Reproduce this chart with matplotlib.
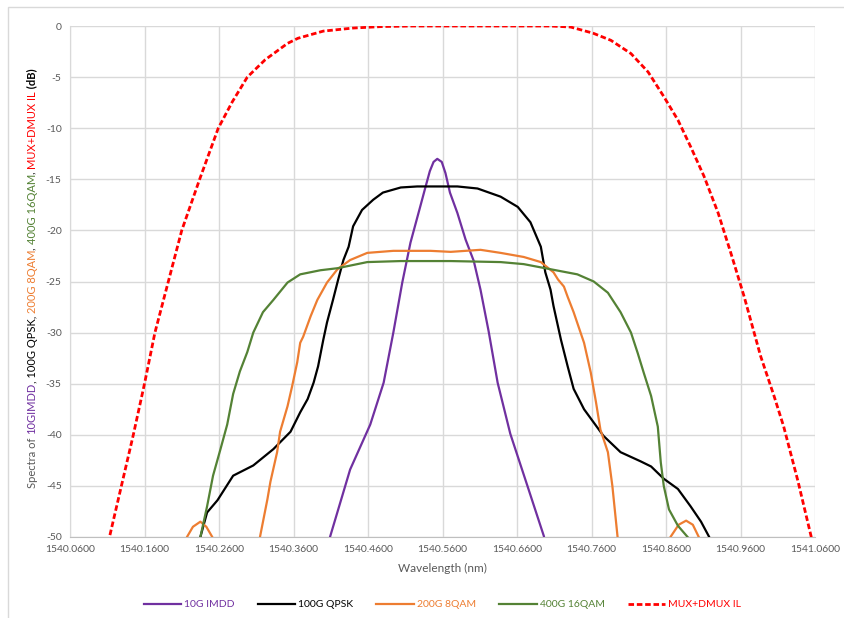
import matplotlib
matplotlib.use("Agg")
import matplotlib.pyplot as plt
from matplotlib.patches import Rectangle

plt.rcParams["font.family"] = ["Lato", "DejaVu Sans"]
plt.rcParams["axes.unicode_minus"] = False

# --- data (wavelength in nm, level in dB) ---
imdd_x = [1540.400, 1540.409, 1540.436, 1540.463, 1540.481, 1540.494, 1540.506, 1540.517,
          1540.530, 1540.537, 1540.543, 1540.548, 1540.553, 1540.559, 1540.564, 1540.570,
          1540.580, 1540.591, 1540.602, 1540.611, 1540.622, 1540.634, 1540.651, 1540.674,
          1540.696, 1540.702]
imdd_y = [-53.0, -50.0, -43.4, -39.0, -34.9, -30.0, -25.1, -21.2,
          -17.7, -15.8, -14.2, -13.3, -13.0, -13.3, -14.4, -16.3,
          -18.3, -20.9, -23.0, -25.8, -29.9, -34.9, -39.9, -45.0,
          -49.9, -52.0]

qpsk_x = [1540.228, 1540.235, 1540.244, 1540.258, 1540.279, 1540.306, 1540.333, 1540.356,
          1540.369, 1540.379, 1540.387, 1540.393, 1540.400, 1540.405, 1540.413, 1540.420,
          1540.427, 1540.434, 1540.440, 1540.452, 1540.467, 1540.480, 1540.504, 1540.526,
          1540.580, 1540.607, 1540.638, 1540.661, 1540.678, 1540.692, 1540.698, 1540.705,
          1540.709, 1540.719, 1540.728, 1540.736, 1540.750, 1540.763, 1540.776, 1540.799,
          1540.826, 1540.840, 1540.857, 1540.876, 1540.893, 1540.907, 1540.918, 1540.925]
qpsk_y = [-52.5, -50.0, -47.6, -46.4, -44.0, -43.0, -41.4, -39.7,
          -37.8, -36.5, -34.9, -33.3, -30.7, -29.0, -26.8, -24.8,
          -22.9, -21.6, -19.6, -18.0, -17.0, -16.3, -15.8, -15.7,
          -15.7, -15.9, -16.7, -17.7, -19.2, -21.6, -24.1, -25.8,
          -27.4, -30.7, -33.3, -35.5, -37.5, -38.8, -40.1, -41.7,
          -42.6, -43.1, -44.3, -45.3, -47.0, -48.5, -50.0, -51.5]

qam8_x = [1540.205, 1540.217, 1540.225, 1540.235, 1540.243, 1540.251, 1540.262, 1540.285,
          1540.305, 1540.315, 1540.325, 1540.329, 1540.338, 1540.342, 1540.352, 1540.358,
          1540.365, 1540.369, 1540.373, 1540.383, 1540.392, 1540.405, 1540.419, 1540.436,
          1540.459, 1540.494, 1540.544, 1540.571, 1540.611, 1540.638, 1540.669, 1540.692,
          1540.709, 1540.715, 1540.723, 1540.728, 1540.736, 1540.750, 1540.759, 1540.766,
          1540.772, 1540.782, 1540.788, 1540.795, 1540.805, 1540.835, 1540.858, 1540.866,
          1540.877, 1540.887, 1540.896, 1540.904, 1540.915]
qam8_y = [-53.0, -50.0, -49.0, -48.5, -49.0, -50.0, -53.0, -60.0,
          -54.0, -50.0, -46.3, -44.6, -41.7, -39.7, -37.2, -35.3,
          -32.9, -31.0, -30.4, -28.4, -26.8, -25.1, -23.8, -22.9,
          -22.2, -22.0, -22.0, -22.1, -21.9, -22.2, -22.6, -23.1,
          -24.1, -24.8, -25.5, -26.5, -28.0, -31.0, -33.9, -36.8,
          -39.5, -41.7, -45.0, -50.0, -55.0, -60.0, -53.0, -50.0,
          -48.8, -48.4, -48.8, -50.0, -53.0]

qam16_x = [1540.228, 1540.235, 1540.244, 1540.252, 1540.262, 1540.271, 1540.275, 1540.279,
           1540.288, 1540.298, 1540.306, 1540.319, 1540.333, 1540.352, 1540.369, 1540.396,
           1540.419, 1540.459, 1540.504, 1540.571, 1540.638, 1540.669, 1540.705, 1540.741,
           1540.763, 1540.782, 1540.799, 1540.813, 1540.822, 1540.830, 1540.840, 1540.849,
           1540.853, 1540.857, 1540.864, 1540.876, 1540.889, 1540.900]
qam16_y = [-54.0, -50.0, -47.0, -44.0, -41.4, -39.0, -37.5, -36.0,
           -33.8, -31.9, -30.0, -28.0, -26.8, -25.1, -24.3, -23.9,
           -23.7, -23.1, -23.0, -23.0, -23.1, -23.3, -23.8, -24.3,
           -25.0, -26.1, -28.0, -30.0, -32.0, -33.9, -36.2, -39.2,
           -42.7, -45.0, -47.3, -48.9, -50.0, -51.0]

il_x = [1540.104, 1540.113, 1540.129, 1540.145, 1540.160, 1540.174, 1540.192, 1540.210,
        1540.234, 1540.259, 1540.278, 1540.298, 1540.322, 1540.352, 1540.366, 1540.400,
        1540.440, 1540.480, 1540.520, 1540.600, 1540.680, 1540.705, 1540.732, 1540.762,
        1540.786, 1540.813, 1540.836, 1540.857, 1540.876, 1540.893, 1540.911, 1540.930,
        1540.947, 1540.965, 1540.987, 1541.005, 1541.018, 1541.037, 1541.055, 1541.062]
il_y = [-53.0, -50.0, -45.0, -40.0, -35.0, -30.0, -25.0, -20.0,
        -15.0, -10.0, -7.4, -5.0, -3.3, -1.7, -1.2, -0.5,
        -0.2, -0.05, 0.0, 0.0, 0.0, 0.0, -0.1, -0.7,
        -1.4, -2.7, -4.5, -6.9, -9.2, -11.8, -14.7, -18.3,
        -22.2, -26.5, -32.3, -36.2, -39.2, -44.5, -50.0, -52.0]

x_ticks = [1540.06 + 0.1 * i for i in range(11)]
y_ticks = [0, -5, -10, -15, -20, -25, -30, -35, -40, -45, -50]

series_names = ["10G IMDD", "100G QPSK", "200G 8QAM", "400G 16QAM", "MUX+DMUX IL"]
series_colors = ["#7030A0", "#000000", "#ED7D31", "#548235", "#FF0000"]
label_colors = ["#7030A0", "#000000", "#ED7D31", "#548235", "#FF0000"]

GREY = "#595959"
GRID = "#D9D9D9"

fig = plt.figure(figsize=(8.44, 6.18), dpi=100)
fig.patches.append(Rectangle((8 / 844, -0.01), 1.0, 1 - 7 / 618 + 0.01, transform=fig.transFigure,
                             fill=False, edgecolor=GRID, linewidth=1.0))
ax = fig.add_axes([70 / 844, 1 - 537 / 618, (815 - 70) / 844, (537 - 26) / 618])

xs = [imdd_x, qpsk_x, qam8_x, qam16_x, il_x]
ys = [imdd_y, qpsk_y, qam8_y, qam16_y, il_y]
handles = []
for x, y, name, c in zip(xs, ys, series_names, series_colors):
    if name == "MUX+DMUX IL":
        h, = ax.plot(x, y, color=c, lw=2.0, dashes=(2.0, 1.0), label=name, zorder=3)
    else:
        h, = ax.plot(x, y, color=c, lw=1.6, label=name, zorder=3)
    handles.append(h)

ax.set_xlim(1540.06, 1541.06)
ax.set_ylim(-50, 0)
ax.set_xticks(x_ticks)
ax.set_xticklabels([f"{v:.4f}" for v in x_ticks])
ax.set_yticks(y_ticks)
ax.set_yticklabels([str(v) for v in y_ticks])
ax.tick_params(length=0, labelsize=7.5, labelcolor=GREY, pad=6)
ax.grid(True, color=GRID, lw=1.0)
ax.set_axisbelow(True)
for side in ["top", "right"]:
    ax.spines[side].set_visible(False)
ax.spines["left"].set_color(GRID)
ax.spines["bottom"].set_color("#BFBFBF")

ax.set_xlabel("Wavelength (nm)", fontsize=8.5, color=GREY, labelpad=6)

leg = ax.legend(handles=handles, loc="upper center", bbox_to_anchor=(0.5, -0.105), ncol=5,
                frameon=False, fontsize=7.5, handlelength=3.6, columnspacing=2.2,
                handletextpad=0.3)
for t, c in zip(leg.get_texts(), label_colors):
    t.set_color(c)

# multi-coloured y label, stacked bottom to top
ylabel_parts = [("Spectra of ", GREY, "normal"), ("10GIMDD", "#7030A0", "normal"),
                (", 100G QPSK, ", "#000000", "normal"), ("200G 8QAM", "#ED7D31", "normal"),
                (", ", "#000000", "normal"), ("400G 16QAM", "#548235", "normal"),
                (", ", "#000000", "normal"), ("MUX+DMUX IL", "#FF0000", "normal"),
                (" (dB)", "#000000", "bold")]
renderer = fig.canvas.get_renderer()
pieces = []
for txt, col, wt in ylabel_parts:
    t = fig.text(32 / 844, 0, txt, rotation=90, color=col, fontsize=8, fontweight=wt,
                 ha="center", va="center")
    pieces.append(t)
heights = [p.get_window_extent(renderer).height for p in pieces]
total = sum(heights)
y0 = (618 - 278) - total / 2
for p, h in zip(pieces, heights):
    p.set_position((32 / 844, (y0 + h / 2) / 618))
    y0 += h

fig.savefig("out.png", dpi=100)
